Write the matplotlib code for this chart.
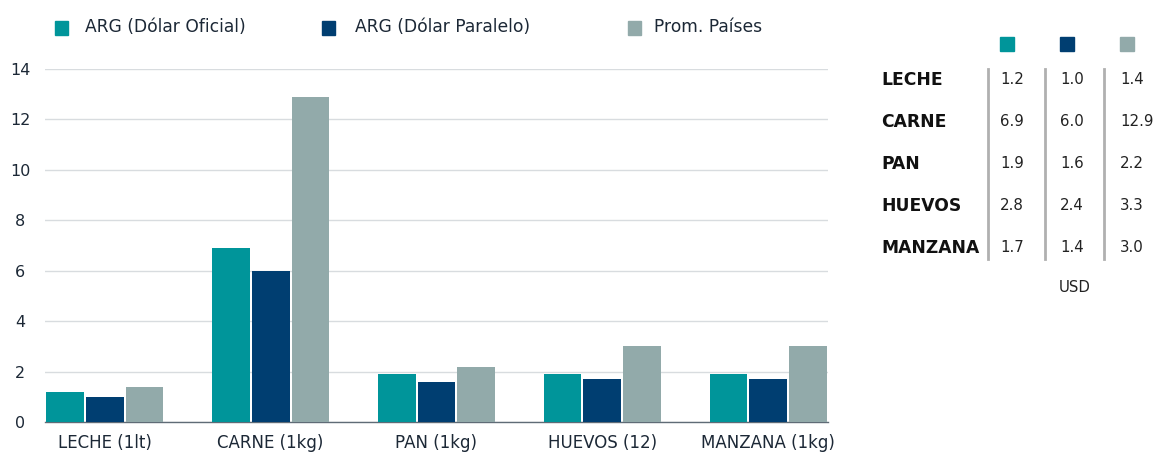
import matplotlib
matplotlib.use("Agg")
import matplotlib.pyplot as plt
import numpy as np
from matplotlib.patches import Rectangle
from matplotlib.lines import Line2D

categories = ["LECHE (1lt)", "CARNE (1kg)", "PAN (1kg)", "HUEVOS (12)", "MANZANA (1kg)"]
series_names = ["ARG (Dólar Oficial)", "ARG (Dólar Paralelo)", "Prom. Países"]
oficial = [1.2, 6.9, 1.9, 1.9, 1.9]
paralelo = [1.0, 6.0, 1.6, 1.7, 1.7]
promedio = [1.4, 12.9, 2.2, 3.0, 3.0]
yticks = [0, 2, 4, 6, 8, 10, 12, 14]

table_rows = ["LECHE", "CARNE", "PAN", "HUEVOS", "MANZANA"]
table_oficial = ["1.2", "6.9", "1.9", "2.8", "1.7"]
table_paralelo = ["1.0", "6.0", "1.6", "2.4", "1.4"]
table_promedio = ["1.4", "12.9", "2.2", "3.3", "3.0"]
table_unit = "USD"

colors = ["#00959a", "#003e71", "#92aaaa"]
text_color = "#1c2836"
plt.rcParams["font.family"] = ["DejaVu Sans"]

W, H = 1153, 455
fig = plt.figure(figsize=(W / 100, H / 100), dpi=100)
ax = fig.add_axes([45 / W, (H - 422) / H, (828 - 45) / W, (422 - 69) / H])

x = np.arange(len(categories))
bw = 0.24
gap = 0.012
for i, (vals, c) in enumerate(zip([oficial, paralelo, promedio], colors)):
    ax.bar(x + (i - 1) * bw, vals, width=bw - gap, color=c, zorder=3)

ax.set_xlim(-0.36, len(categories) - 1 + 0.36)
ax.set_ylim(0, 14)
ax.set_yticks(yticks)
ax.set_xticks(x)
ax.set_xticklabels(categories)
ax.yaxis.grid(True, color="#d8dcdf", linewidth=1.0, zorder=0)
ax.set_axisbelow(True)
for s in ["top", "right", "left"]:
    ax.spines[s].set_visible(False)
ax.spines["bottom"].set_color("#5f6b76")
ax.spines["bottom"].set_linewidth(1.0)
ax.spines["bottom"].set_zorder(2)
ax.tick_params(axis="x", length=0, labelsize=12, colors=text_color, pad=9)
ax.tick_params(axis="y", length=0, labelsize=11.5, colors=text_color, pad=18)
for lbl in ax.get_yticklabels():
    lbl.set_horizontalalignment("center")

def px(xp, yp):
    return xp / W, 1 - yp / H

# Legend
leg = [(55, 85), (322, 355), (628, 654)]
for (sx, tx), c, name in zip(leg, colors, series_names):
    fig.patches.append(Rectangle(px(sx, 35), 13 / W, 14 / H, transform=fig.transFigure,
                                 color=c, figure=fig))
    fig.text(*px(tx, 27), name, fontsize=12.3, color=text_color, va="center", ha="left")

# Table
col_x = [1000, 1060, 1120]
for cx, c in zip(col_x, colors):
    fig.patches.append(Rectangle(px(cx, 51), 14 / W, 14 / H, transform=fig.transFigure,
                                 color=c, figure=fig))
row_y = [80, 122, 164, 206, 248]
for ry, name, a, b, cval in zip(row_y, table_rows, table_oficial, table_paralelo, table_promedio):
    fig.text(*px(881, ry), name, fontsize=12.3, fontweight="bold", color="#111111",
             va="center", ha="left")
    for cx, v in zip(col_x, [a, b, cval]):
        fig.text(*px(cx, ry), v, fontsize=10.8, color="#222222", va="center", ha="left")
for lx in [988, 1045, 1104]:
    fig.add_artist(Line2D([lx / W, lx / W], [1 - 69 / H, 1 - 259 / H], color="#b0b0b0",
                          linewidth=2, transform=fig.transFigure))
fig.text(*px(1075, 287), table_unit, fontsize=10.8, color="#222222", va="center", ha="center")

fig.savefig("out.png", dpi=100)
